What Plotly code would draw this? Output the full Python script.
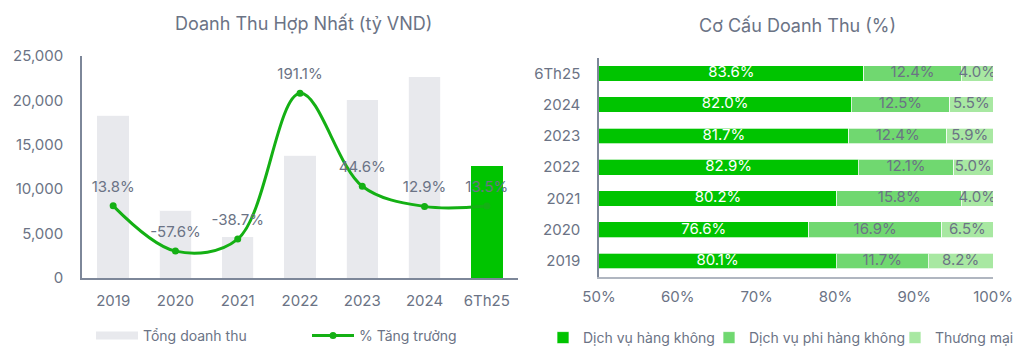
import plotly.graph_objects as go

# ---------- data ----------
years = ["2019", "2020", "2021", "2022", "2023", "2024", "6Th25"]
revenue = [18350, 7650, 4650, 13850, 20100, 22650, 12650]
growth = [13.8, -57.6, -38.7, 191.1, 44.6, 12.9, 13.5]

mix_cats = ["2019", "2020", "2021", "2022", "2023", "2024", "6Th25"]
aviation = [80.1, 76.6, 80.2, 82.9, 81.7, 82.0, 83.6]
non_aviation = [11.7, 16.9, 15.8, 12.1, 12.4, 12.5, 12.4]
commerce = [8.2, 6.5, 4.0, 5.0, 5.9, 5.5, 4.0]

pct_ticks = [50, 60, 70, 80, 90, 100]

# ---------- style ----------
FONT = "Inter"
TXT = "#6b7385"
AXIS = "#7d8799"
GREEN = "#00c400"
MID = "#70d870"
LIGHT = "#a8e8a2"
GREY_BAR = "#e8e9ed"
LINE = "#14b014"
W, H = 1029, 353


def px(x):
    return x / W


def py(y):
    return 1 - y / H


fig = go.Figure()

# left: revenue bars
bar_colors = [GREY_BAR] * (len(years) - 1) + [GREEN]
fig.add_trace(go.Bar(
    x=years, y=revenue,
    marker=dict(color=bar_colors, line=dict(width=1, color="rgba(255,255,255,0.8)")),
    width=0.52, showlegend=False, xaxis="x", yaxis="y", hoverinfo="skip"))
# legend proxy for bars (wide swatch)
fig.add_trace(go.Scatter(
    x=[None], y=[None], mode="lines", line=dict(color=GREY_BAR, width=8),
    name="Tổng doanh thu", legend="legend", xaxis="x", yaxis="y"))
# growth line
fig.add_trace(go.Scatter(
    x=years, y=growth, mode="lines+markers",
    line=dict(color=LINE, width=3, shape="spline", smoothing=1),
    marker=dict(color=LINE, size=7),
    name="% Tăng trưởng", legend="legend2", xaxis="x", yaxis="y2"))
# growth labels
fig.add_trace(go.Scatter(
    x=years, y=growth, mode="markers+text",
    marker=dict(size=15, opacity=0),
    text=[f"{g:.1f}%" for g in growth], textposition="top center",
    textfont=dict(color=TXT, size=15, family=FONT),
    showlegend=False, xaxis="x", yaxis="y2", hoverinfo="skip"))

# right: stacked composition
series = [("Dịch vụ hàng không", aviation, GREEN, "legend3"),
          ("Dịch vụ phi hàng không", non_aviation, MID, "legend4"),
          ("Thương mại", commerce, LIGHT, "legend5")]
for name, vals, col, lg in series:
    fig.add_trace(go.Bar(
        y=mix_cats, x=vals, orientation="h", name=name,
        marker=dict(color=col, line=dict(width=1, color="rgba(255,255,255,0.7)")),
        width=0.5, xaxis="x3", yaxis="y3", legend=lg, hoverinfo="skip"))

# segment labels, centred in the visible part of each segment
for i, (name, vals, col, lg) in enumerate(series):
    xs = []
    for j in range(len(mix_cats)):
        start = sum(series[k][1][j] for k in range(i))
        end = start + vals[j]
        xs.append((max(start, 50) + end) / 2)
    fig.add_trace(go.Scatter(
        x=xs, y=mix_cats, mode="text", text=[f"{v:.1f}%" for v in vals],
        textfont=dict(color="white" if i == 0 else TXT, size=15, family=FONT),
        showlegend=False, xaxis="x3", yaxis="y3", hoverinfo="skip"))

leg_common = dict(orientation="h", xanchor="left", yanchor="middle",
                  font=dict(size=14, color=TXT, family=FONT), bgcolor="rgba(0,0,0,0)",
                  traceorder="normal")

fig.update_layout(
    width=W, height=H, margin=dict(l=0, r=0, t=0, b=0, autoexpand=False),
    paper_bgcolor="white", plot_bgcolor="white",
    font=dict(family=FONT, color=TXT, size=15),
    barmode="stack",
    xaxis=dict(domain=[px(82), px(518)], anchor="y", showline=True, linecolor=AXIS, linewidth=1.5,
               showgrid=False, ticks="", tickfont=dict(size=15), ticklabelstandoff=8,
               categoryorder="array", categoryarray=years),
    yaxis=dict(domain=[py(278), py(56)], anchor="x", range=[0, 25000],
               tickvals=[0, 5000, 10000, 15000, 20000, 25000],
               tickformat=",", showline=True, linecolor=AXIS, linewidth=1.5, showgrid=False, zeroline=False,
               ticks="", ticklabelstandoff=14, tickfont=dict(size=15)),
    yaxis2=dict(overlaying="y", range=[-100, 250], visible=False, showgrid=False),
    xaxis3=dict(domain=[px(599), px(993)], anchor="y3", range=[50, 100], tickvals=pct_ticks,
                ticktext=[f"{t}%" for t in pct_ticks],
                showline=True, linecolor="#b0b6c0", linewidth=1.5, showgrid=False, zeroline=False,
                ticks="", ticklabelstandoff=6, tickfont=dict(size=15)),
    yaxis3=dict(domain=[py(276.7), py(57.7)], anchor="x3", showline=True, linecolor=AXIS, linewidth=1.5,
                showgrid=False, ticks="", ticklabelstandoff=14, tickfont=dict(size=15),
                categoryorder="array", categoryarray=mix_cats),
    legend=dict(x=px(91), y=py(336), itemwidth=42, **leg_common),
    legend2=dict(x=px(307), y=py(336), itemwidth=42, **leg_common),
    legend3=dict(x=px(543), y=py(338), itemwidth=30, **leg_common),
    legend4=dict(x=px(709), y=py(338), itemwidth=30, **leg_common),
    legend5=dict(x=px(895), y=py(338), itemwidth=30, **leg_common),
    annotations=[
        dict(text="Doanh Thu Hợp Nhất (tỷ VND)", x=px(303), y=py(23), xref="paper", yref="paper",
             xanchor="center", yanchor="middle",
             showarrow=False, font=dict(size=18, color=TXT, family=FONT)),
        dict(text="Cơ Cấu Doanh Thu (%)", x=px(797), y=py(26), xref="paper", yref="paper",
             xanchor="center", yanchor="middle",
             showarrow=False, font=dict(size=18, color=TXT, family=FONT)),
    ],
)

fig.write_html("out.html")
